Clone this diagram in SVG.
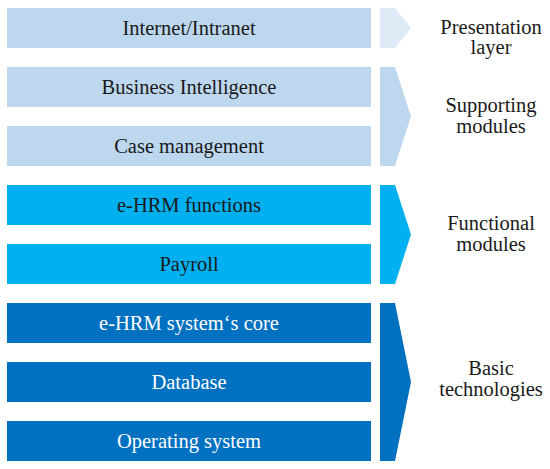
<svg xmlns="http://www.w3.org/2000/svg" width="550" height="469" viewBox="0 0 550 469">
<style>
text{font-family:'Liberation Serif','DejaVu Serif',serif;font-size:20.5px;text-anchor:middle}
.dk{fill:#1a1a1a}
.wh{fill:#ffffff}
.light{fill:#bdd7ee}
.pale{fill:#deebf7}
.cyan{fill:#00b0f0}
.blue{fill:#0070c0}
</style>
<rect width="550" height="469" fill="#ffffff"/>
<g id="internet"><rect class="light" x="7" y="8" width="364" height="40"/><text class="dk" x="189" y="35">Internet/Intranet</text></g>
<g id="bi"><rect class="light" x="7" y="67" width="364" height="40"/><text class="dk" x="189" y="94">Business Intelligence</text></g>
<g id="case"><rect class="light" x="7" y="126" width="364" height="40"/><text class="dk" x="189" y="153">Case management</text></g>
<g id="ehrmfunc"><rect class="cyan" x="7" y="185" width="364" height="40"/><text class="dk" x="189" y="212">e-HRM functions</text></g>
<g id="payroll"><rect class="cyan" x="7" y="244" width="364" height="40"/><text class="dk" x="189" y="271">Payroll</text></g>
<g id="core"><rect class="blue" x="7" y="303" width="364" height="40"/><text class="wh" x="189" y="330">e-HRM system‘s core</text></g>
<g id="database"><rect class="blue" x="7" y="362" width="364" height="40"/><text class="wh" x="189" y="389">Database</text></g>
<g id="os"><rect class="blue" x="7" y="421" width="364" height="40"/><text class="wh" x="189" y="448">Operating system</text></g>
<g id="presentation"><polygon class="pale" points="380,8 395,8 411,28 395,48 380,48"/><text class="dk" x="491" y="33.5">Presentation</text><text class="dk" x="491" y="54">layer</text></g>
<g id="supporting"><polygon class="light" points="380,67 395,67 411,116.5 395,166 380,166"/><text class="dk" x="491" y="112">Supporting</text><text class="dk" x="491" y="132.5">modules</text></g>
<g id="functional"><polygon class="cyan" points="380,185 395,185 411,234.5 395,284 380,284"/><text class="dk" x="491" y="230">Functional</text><text class="dk" x="491" y="250.5">modules</text></g>
<g id="basic"><polygon class="blue" points="380,303 395,303 411,382 395,461 380,461"/><text class="dk" x="491" y="375">Basic</text><text class="dk" x="491" y="395.5">technologies</text></g>
</svg>
